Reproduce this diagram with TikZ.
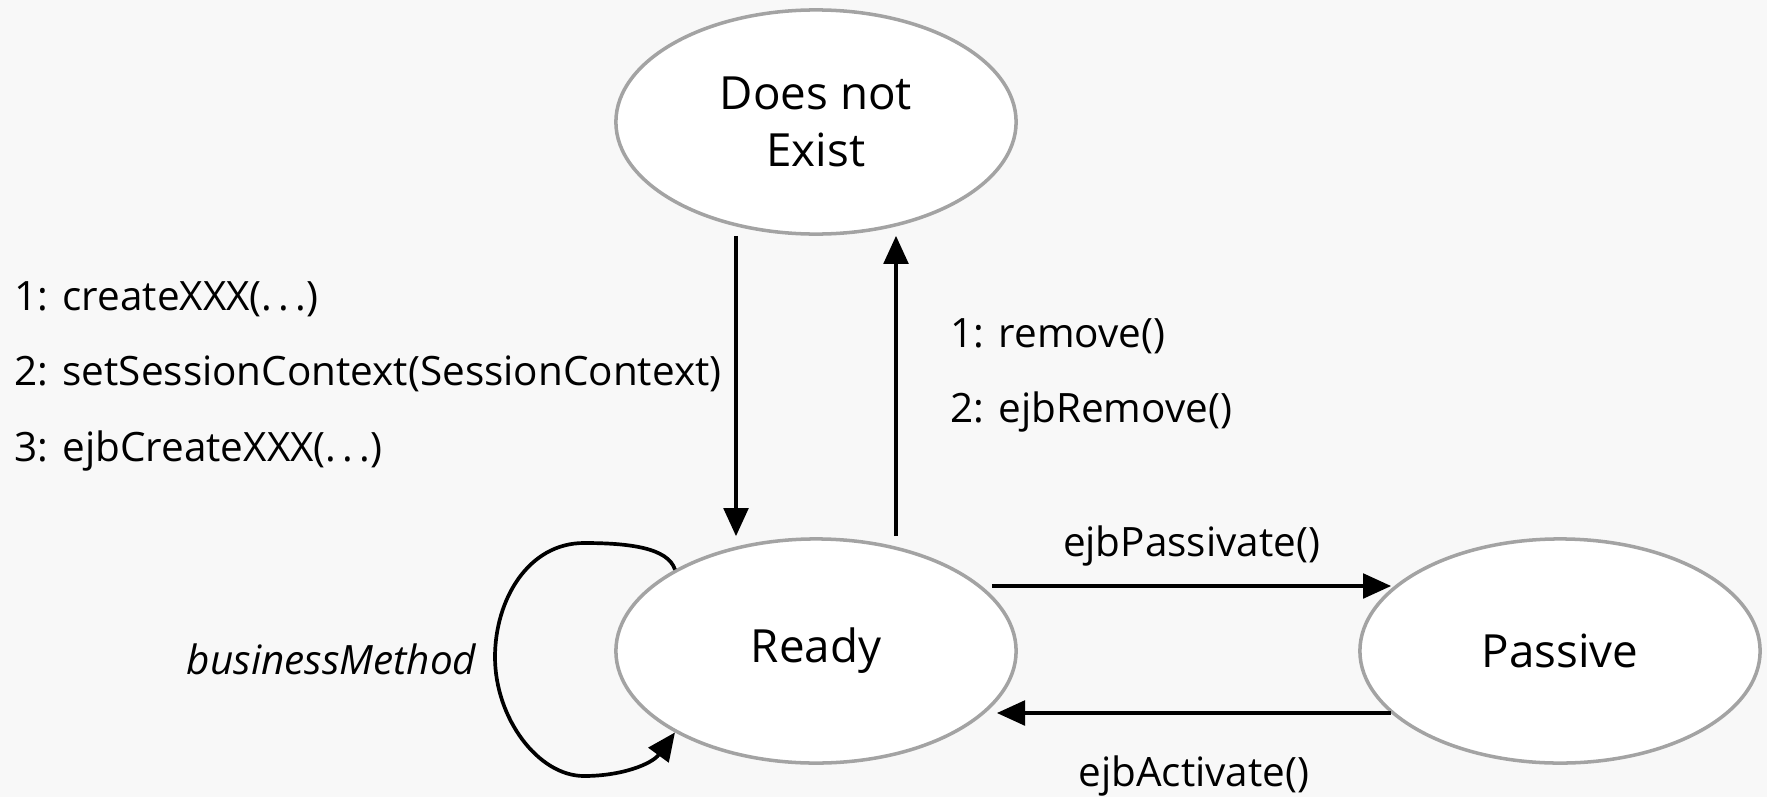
\documentclass[tikz,border=0pt]{standalone}
\usepackage{fontspec}
\usepackage{graphicx}
\setmainfont{Open Sans}
\usetikzlibrary{arrows.meta,shapes.geometric}

\definecolor{paper}{HTML}{F8F8F8}
\definecolor{rim}{HTML}{A3A3A3}
\newcommand{\argdots}{.\kern0.15em.\kern0.15em.}

\begin{document}
\begin{tikzpicture}[x = 0.01cm, y = -0.01cm,
        state/.style = {ellipse, draw = rim, line width = 1pt, fill = white,
            minimum width = 4cm, minimum height = 2.24cm, inner sep = 0pt,
            align = center, font = \fontsize{13}{16}\selectfont},
        flow/.style = {line width = 1.05pt, -{Triangle[length = 8pt, width = 7pt]}},
        lbl/.style = {inner sep = 0pt, font = \fontsize{11.5}{14}\selectfont}]
        \useasboundingbox (0,0) rectangle (1767,797);
        \fill[paper] (0,0) rectangle (1767,797);

        \node[state] (dne)   at (816,122)  {Does not\\Exist};
        \node[state] (ready) at (816,651)  {Ready};
        \node[state] (pass)  at (1560,651) {Passive};

        \draw[flow] ([shift = {(-80,0)}]dne.south) -- ([shift = {(-80,-1)}]ready.north);
        \draw[flow] ([shift = {(80,-1)}]ready.north) -- ([shift = {(80,0)}]dne.south);

        \draw[flow] ([shift = {(-26,-65)}]ready.east) --
            node[lbl, above = 5pt]{ejbPassivate()}
            ([shift = {(33,-65)}]pass.west);
        \draw[flow] ([shift = {(33,62)}]pass.west) --
            node[lbl, below = 11.5pt]{ejbActivate()}
            ([shift = {(-21,62)}]ready.east);

        \draw[flow] (ready.150) .. controls (668,548) and (630,543) .. (584,543)
            .. controls (528,543) and (495,600) .. (495,657)
            .. controls (495,718) and (538,776) .. (584,776)
            .. controls (622,776) and (652,764) .. (ready.210);

        \node[lbl, anchor = east, font = \fontsize{11.5}{14}\selectfont\itshape]
            (busy) at (477,659) {businessMethod};

        \node[lbl, anchor = west] (create)  at (14,299) {1: createXXX(\argdots)};
        \node[lbl, anchor = west] (context) at (14,374) {2: setSessionContext(SessionContext)};
        \node[lbl, anchor = west] (ejbnew)  at (14,451) {3: ejbCreateXXX(\argdots)};

        \node[lbl, anchor = west] (rem)    at (950,336) {1: remove()};
        \node[lbl, anchor = west] (ejbrem) at (950,412) {2: ejbRemove()};
\end{tikzpicture}
\end{document}
